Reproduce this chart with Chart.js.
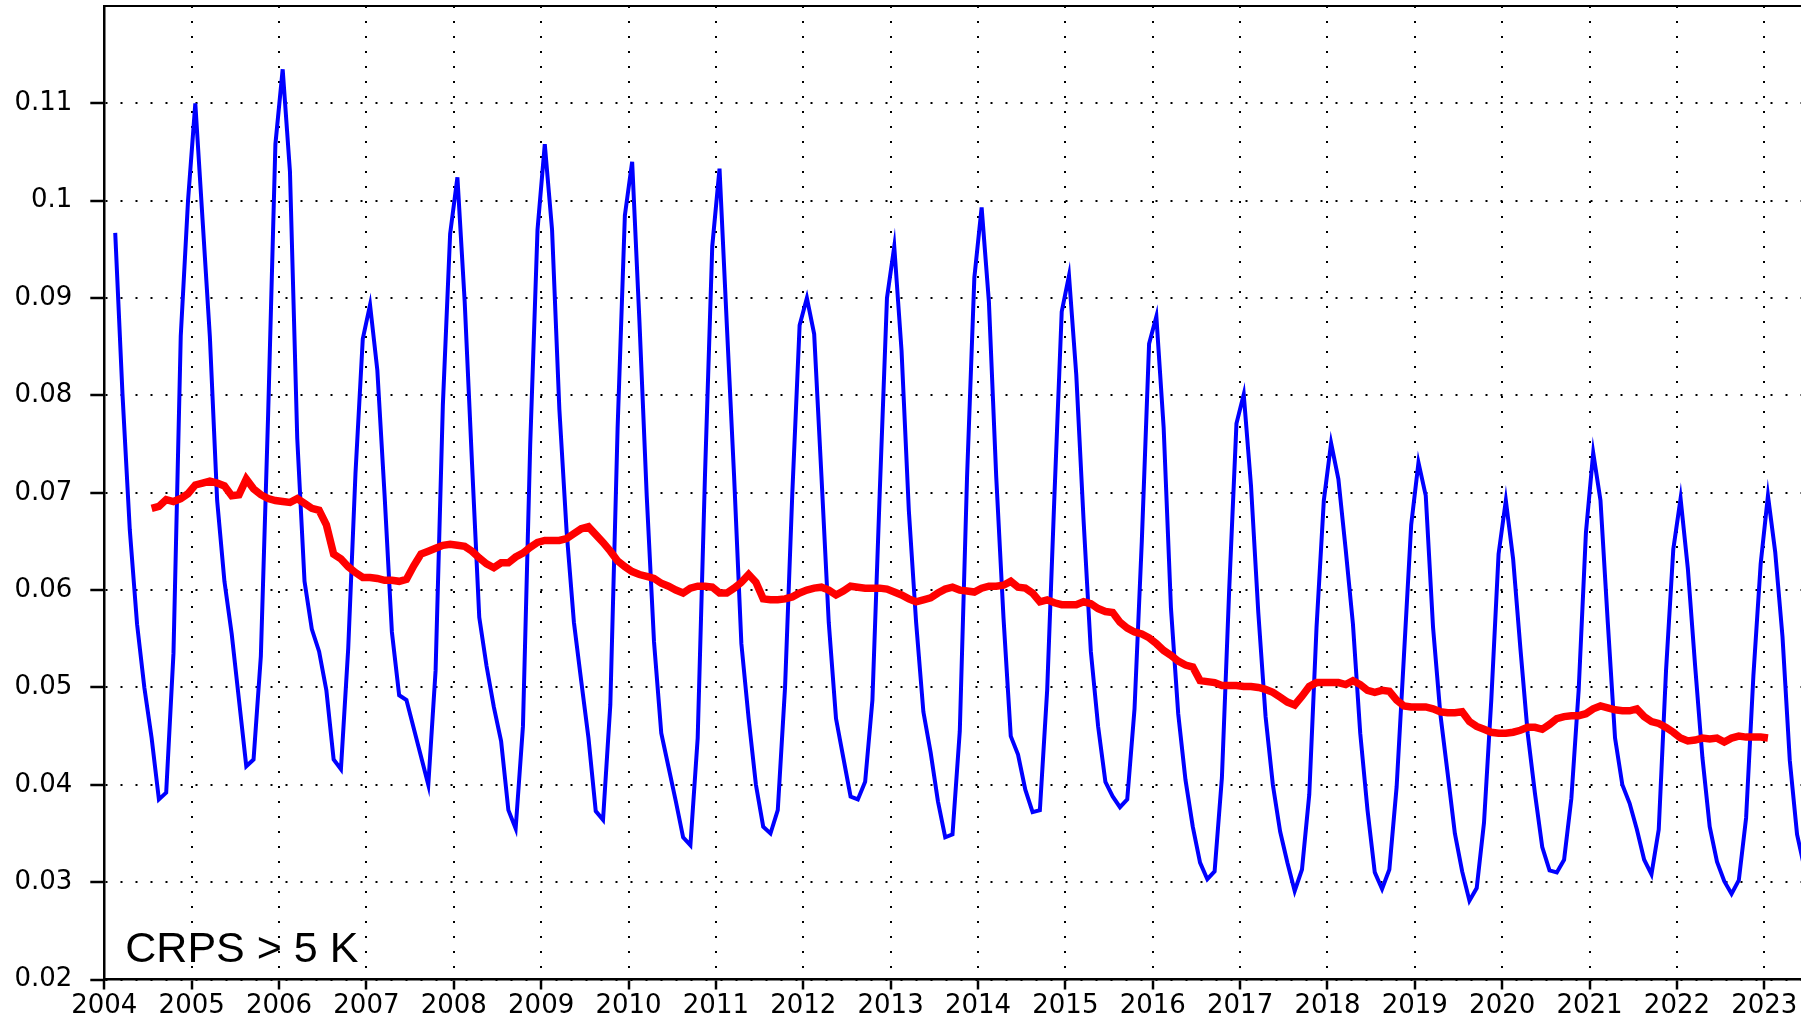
<!DOCTYPE html>
<html>
<head>
<meta charset="utf-8">
<script src="https://cdn.jsdelivr.net/npm/chart.js@4.4.1/dist/chart.umd.min.js"></script>
<style>
    html, body { margin: 0; padding: 0; background: #ffffff; }
    #wrap { width: 1801px; height: 1018px; position: relative; }
</style>
</head>
<body>
<div id="wrap"><canvas id="crpsChart"></canvas></div>
<script>
// monthly values, first one is Feb 2004 (year, month)
const monthlyStart = [2004, 2];
const crpsMonthly = [
    0.0967, 0.0801, 0.0662, 0.0565, 0.0500, 0.0448, 0.0385, 0.0392, 0.0535, 0.0861, 0.1000,
    0.1100, 0.0980, 0.0860, 0.0692, 0.0609, 0.0555, 0.0487, 0.0419, 0.0426, 0.0532, 0.0780, 0.1058,
    0.1135, 0.1030, 0.0756, 0.0609, 0.0560, 0.0537, 0.0497, 0.0426, 0.0416, 0.0540, 0.0720, 0.0858,
    0.0893, 0.0826, 0.0697, 0.0557, 0.0492, 0.0487, 0.0458, 0.0429, 0.0400, 0.0517, 0.0790, 0.0966,
    0.1024, 0.0896, 0.0731, 0.0572, 0.0522, 0.0480, 0.0445, 0.0374, 0.0355, 0.0460, 0.0750, 0.0970,
    0.1058, 0.0970, 0.0786, 0.0660, 0.0567, 0.0507, 0.0448, 0.0373, 0.0364, 0.0482, 0.0766, 0.0985,
    0.1040, 0.0876, 0.0697, 0.0547, 0.0453, 0.0418, 0.0383, 0.0346, 0.0338, 0.0448, 0.0717, 0.0953,
    0.1033, 0.0873, 0.0717, 0.0545, 0.0468, 0.0400, 0.0357, 0.0350, 0.0374, 0.0500, 0.0700, 0.0872,
    0.0900, 0.0863, 0.0717, 0.0567, 0.0468, 0.0428, 0.0388, 0.0385, 0.0403, 0.0487, 0.0699, 0.0900,
    0.0953, 0.0846, 0.0682, 0.0567, 0.0475, 0.0433, 0.0383, 0.0346, 0.0349, 0.0455, 0.0717, 0.0921,
    0.0993, 0.0896, 0.0717, 0.0572, 0.0450, 0.0431, 0.0395, 0.0372, 0.0374, 0.0497, 0.0697, 0.0886,
    0.0923, 0.0821, 0.0672, 0.0537, 0.0460, 0.0403, 0.0388, 0.0377, 0.0385, 0.0478, 0.0650, 0.0853,
    0.0881, 0.0767, 0.0582, 0.0473, 0.0405, 0.0357, 0.0320, 0.0303, 0.0311, 0.0407, 0.0600, 0.0771,
    0.0801, 0.0707, 0.0577, 0.0470, 0.0400, 0.0352, 0.0320, 0.0291, 0.0313, 0.0390, 0.0562, 0.0692,
    0.0751, 0.0714, 0.0642, 0.0565, 0.0453, 0.0374, 0.0310, 0.0293, 0.0313, 0.0398, 0.0532, 0.0667,
    0.0731, 0.0697, 0.0562, 0.0473, 0.0412, 0.0350, 0.0311, 0.0281, 0.0294, 0.0361, 0.0487, 0.0637,
    0.0692, 0.0632, 0.0540, 0.0453, 0.0391, 0.0336, 0.0312, 0.0310, 0.0323, 0.0386, 0.0497, 0.0659,
    0.0741, 0.0692, 0.0567, 0.0448, 0.0400, 0.0381, 0.0354, 0.0323, 0.0308, 0.0354, 0.0517, 0.0642,
    0.0694, 0.0622, 0.0522, 0.0428, 0.0357, 0.0321, 0.0301, 0.0288, 0.0302, 0.0366, 0.0512, 0.0627,
    0.0697, 0.0639, 0.0552, 0.0425, 0.0349, 0.0315
];

// 12-month running mean, first one is Jul 2004
const meanStart = [2004, 7];
const crpsRunningMean = [
    0.0684, 0.0686, 0.0693, 0.0691, 0.0694, 0.0699,
    0.0708, 0.0710, 0.0712, 0.0710, 0.0707, 0.0697, 0.0698, 0.0714, 0.0704, 0.0698, 0.0694, 0.0692,
    0.0691, 0.0690, 0.0694, 0.0689, 0.0684, 0.0682, 0.0667, 0.0637, 0.0632, 0.0624, 0.0618, 0.0613,
    0.0613, 0.0612, 0.0610, 0.0610, 0.0609, 0.0611, 0.0625, 0.0637, 0.0640, 0.0643, 0.0646, 0.0647,
    0.0646, 0.0645, 0.0640, 0.0633, 0.0627, 0.0623, 0.0628, 0.0628, 0.0634, 0.0638, 0.0644, 0.0649,
    0.0651, 0.0651, 0.0651, 0.0653, 0.0658, 0.0663, 0.0665, 0.0657, 0.0649, 0.0640, 0.0630, 0.0624,
    0.0619, 0.0616, 0.0614, 0.0612, 0.0607, 0.0604, 0.0600, 0.0597, 0.0602, 0.0604, 0.0604, 0.0603,
    0.0597, 0.0597, 0.0602, 0.0608, 0.0616, 0.0608, 0.0591, 0.0590, 0.0590, 0.0591, 0.0593, 0.0597,
    0.0600, 0.0602, 0.0603, 0.0600, 0.0595, 0.0599, 0.0604, 0.0603, 0.0602, 0.0602, 0.0602, 0.0601,
    0.0598, 0.0595, 0.0591, 0.0588, 0.0590, 0.0592, 0.0597, 0.0601, 0.0603, 0.0600, 0.0599, 0.0598,
    0.0602, 0.0604, 0.0604, 0.0605, 0.0609, 0.0603, 0.0602, 0.0597, 0.0588, 0.0590, 0.0587, 0.0585,
    0.0585, 0.0585, 0.0588, 0.0586, 0.0581, 0.0578, 0.0577, 0.0567, 0.0561, 0.0557, 0.0555, 0.0551,
    0.0545, 0.0538, 0.0533, 0.0527, 0.0523, 0.0521, 0.0507, 0.0506, 0.0505, 0.0502, 0.0502, 0.0502,
    0.0501, 0.0501, 0.0500, 0.0498, 0.0495, 0.0490, 0.0485, 0.0482, 0.0491, 0.0501, 0.0505, 0.0505,
    0.0505, 0.0505, 0.0503, 0.0507, 0.0503, 0.0497, 0.0495, 0.0497, 0.0496, 0.0487, 0.0481, 0.0480,
    0.0480, 0.0480, 0.0478, 0.0475, 0.0474, 0.0474, 0.0475, 0.0465, 0.0460, 0.0457, 0.0454, 0.0453,
    0.0453, 0.0454, 0.0456, 0.0459, 0.0459, 0.0457, 0.0462, 0.0468, 0.0470, 0.0471, 0.0471, 0.0473,
    0.0478, 0.0481, 0.0479, 0.0477, 0.0476, 0.0476, 0.0478, 0.0470, 0.0465, 0.0463, 0.0459, 0.0454,
    0.0448, 0.0445, 0.0446, 0.0448, 0.0447, 0.0448, 0.0444, 0.0448, 0.0450, 0.0449, 0.0449, 0.0449,
    0.0448
];

const yearTicks = [2004, 2005, 2006, 2007, 2008, 2009, 2010, 2011, 2012, 2013,
                   2014, 2015, 2016, 2017, 2018, 2019, 2020, 2021, 2022, 2023];
const valueTicks = [0.02, 0.03, 0.04, 0.05, 0.06, 0.07, 0.08, 0.09, 0.1, 0.11];
const xRange = [2004, 2023.42];
const yRange = [0.02, 0.12];
const panelLabel = 'CRPS > 5 K';

// month index -> decimal year at mid-month
function toPoints(start, values) {
    return values.map((v, i) => ({ x: start[0] + (start[1] - 1 + i + 0.5) / 12, y: v }));
}

const labelPlugin = {
    id: 'panelLabel',
    afterDraw(chart) {
        const ctx = chart.ctx;
        ctx.save();
        ctx.font = '43px "Liberation Sans", Arial, sans-serif';
        ctx.fillStyle = '#000000';
        ctx.textAlign = 'left';
        ctx.textBaseline = 'alphabetic';
        ctx.fillText(panelLabel, chart.chartArea.left + 21, 962);
        ctx.restore();
    }
};

Chart.defaults.font.family = "'DejaVu Sans', sans-serif";
Chart.defaults.font.size = 26;
Chart.defaults.color = '#000000';

const ctx = document.getElementById('crpsChart').getContext('2d');
new Chart(ctx, {
    type: 'line',
    data: {
        datasets: [
            {
                label: 'running mean',
                data: toPoints(meanStart, crpsRunningMean),
                borderColor: '#ff0000',
                borderWidth: 7.5,
                pointRadius: 0,
                tension: 0,
                xAxisID: 'x',
                yAxisID: 'y'
            },
            {
                label: 'monthly',
                data: toPoints(monthlyStart, crpsMonthly),
                borderColor: '#0000ff',
                borderWidth: 4,
                pointRadius: 0,
                tension: 0,
                xAxisID: 'x',
                yAxisID: 'y'
            }
        ]
    },
    options: {
        responsive: true,
        maintainAspectRatio: false,
        animation: false,
        layout: { padding: { top: 6, right: 0, bottom: 0, left: 0 } },
        plugins: {
            legend: { display: false },
            tooltip: { enabled: false }
        },
        scales: {
            x: {
                type: 'linear',
                position: 'bottom',
                min: xRange[0],
                max: xRange[1],
                afterBuildTicks: (scale) => { scale.ticks = yearTicks.map(v => ({ value: v })); },
                afterFit: (scale) => {
                    scale.height = 38.5;
                    scale.paddingLeft = 0;
                    scale.paddingRight = 0;
                },
                ticks: {
                    callback: (v) => String(v),
                    padding: 1,
                    maxRotation: 0,
                    autoSkip: false
                },
                grid: {
                    color: '#000000',
                    lineWidth: 2,
                    tickLength: 10,
                    tickColor: '#000000',
                    tickWidth: 2.5,
                    tickBorderDash: []
                },
                border: { display: true, color: '#000000', width: 2.5, dash: [2, 13] }
            },
            xTop: {
                type: 'linear',
                position: 'top',
                min: xRange[0],
                max: xRange[1],
                afterFit: (scale) => {
                    scale.height = 0;
                    scale.paddingLeft = 0;
                    scale.paddingRight = 0;
                },
                ticks: { display: false },
                grid: { display: false, drawTicks: false },
                border: { display: true, color: '#000000', width: 2 }
            },
            y: {
                type: 'linear',
                position: 'left',
                min: yRange[0],
                max: yRange[1],
                afterBuildTicks: (scale) => { scale.ticks = valueTicks.map(v => ({ value: v })); },
                afterFit: (scale) => {
                    scale.width = 104.3;
                    scale.paddingTop = 0;
                    scale.paddingBottom = 0;
                },
                ticks: {
                    callback: (v) => String(+v.toFixed(2)),
                    padding: 18,
                    autoSkip: false
                },
                grid: {
                    color: '#000000',
                    lineWidth: 2,
                    tickLength: 14,
                    tickColor: '#000000',
                    tickWidth: 2.5,
                    tickBorderDash: []
                },
                border: { display: true, color: '#000000', width: 2.5, dash: [2, 13] }
            }
        }
    },
    plugins: [labelPlugin]
});
</script>
</body>
</html>
